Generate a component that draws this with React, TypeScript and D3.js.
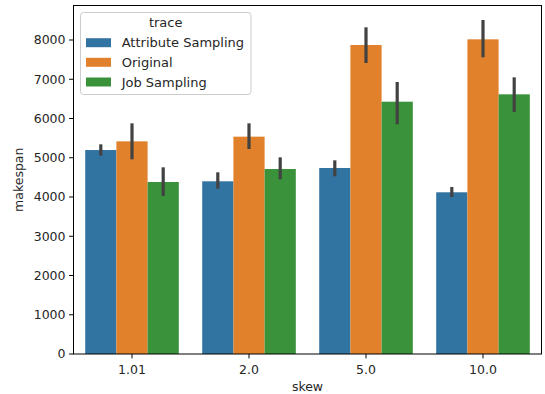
import React from "react";
import * as d3 from "d3";

const categories = ["1.01", "2.0", "5.0", "10.0"];
const traces = ["Attribute Sampling", "Original", "Job Sampling"];
const colors = ["#3274a1", "#e1812c", "#3a923a"];
const means = [
  [5197, 4400, 4739, 4120],
  [5418, 5537, 7873, 8017],
  [4382, 4713, 6428, 6616],
];
const ciLow = [
  [5053, 4212, 4527, 4000],
  [4960, 5223, 7414, 7559],
  [4025, 4450, 5852, 6166],
];
const ciHigh = [
  [5342, 4629, 4934, 4255],
  [5877, 5877, 8323, 8510],
  [4756, 5011, 6930, 7049],
];
const yTicks = [0, 1000, 2000, 3000, 4000, 5000, 6000, 7000, 8000];

const W = 545, H = 394;
const left = 73.5, right = 541.5, top = 5.5, bottom = 354;
const FONT = "DejaVu Sans, sans-serif";
const FS = 12.5;
const LFS = 13;

export default function App() {
  const x = d3.scaleBand<string>().domain(categories).range([left, right]).paddingInner(0).paddingOuter(0);
  const inner = d3.scaleBand<string>().domain(traces).range([0, x.bandwidth() * 0.8]);
  const y = d3.scaleLinear().domain([0, 8879]).range([bottom, top]);
  const off = x.bandwidth() * 0.1;
  const rowsY = [42.7, 62.3, 82];

  return (
    <svg width={W} height={H} style={{ position: "absolute", left: 0, top: 0, background: "#fff" }} fontFamily={FONT}>
      {traces.map((t, si) =>
        categories.map((c, ci) => {
          const bx = (x(c) as number) + off + (inner(t) as number);
          const v = means[si][ci];
          return (
            <rect key={t + c} x={bx} y={y(v)} width={inner.bandwidth()} height={y(0) - y(v)} fill={colors[si]} />
          );
        })
      )}
      {traces.map((t, si) =>
        categories.map((c, ci) => {
          const cx = (x(c) as number) + off + (inner(t) as number) + inner.bandwidth() / 2;
          return (
            <line key={"e" + t + c} x1={cx} x2={cx} y1={y(ciLow[si][ci])} y2={y(ciHigh[si][ci])} stroke="#424242" strokeWidth={3.2} />
          );
        })
      )}
      <rect x={left} y={top} width={right - left} height={bottom - top} fill="none" stroke="#000" strokeWidth={1} />
      {yTicks.map((t) => (
        <g key={t}>
          <line x1={left - 4.4} x2={left} y1={y(t)} y2={y(t)} stroke="#000" strokeWidth={1} />
          <text x={left - 8} y={y(t)} dy="0.35em" textAnchor="end" fontSize={FS} fill="#262626">{t}</text>
        </g>
      ))}
      {categories.map((c) => {
        const cx = (x(c) as number) + x.bandwidth() / 2;
        return (
          <g key={c}>
            <line x1={cx} x2={cx} y1={bottom} y2={bottom + 4.4} stroke="#000" strokeWidth={1} />
            <text x={cx} y={bottom + 16} dy="0.35em" textAnchor="middle" fontSize={FS} fill="#262626">{c}</text>
          </g>
        );
      })}
      <text x={(left + right) / 2} y={387} dy="0.35em" textAnchor="middle" fontSize={FS} fill="#262626">skew</text>
      <text transform={`translate(18.5, ${(top + bottom) / 2}) rotate(-90)`} dy="0.35em" textAnchor="middle" fontSize={FS} fill="#262626">makespan</text>
      <g>
        <rect x={80.5} y={12.5} width={170.5} height={82} rx={3} fill="#fff" fillOpacity={0.8} stroke="#cccccc" strokeWidth={1} />
        <text x={165.7} y={22.7} dy="0.35em" textAnchor="middle" fontSize={LFS} fill="#262626">trace</text>
        {traces.map((t, i) => (
          <g key={t}>
            <rect x={86} y={rowsY[i] - 4.5} width={25} height={9} fill={colors[i]} />
            <text x={121.7} y={rowsY[i]} dy="0.35em" fontSize={LFS} fill="#262626">{t}</text>
          </g>
        ))}
      </g>
    </svg>
  );
}
